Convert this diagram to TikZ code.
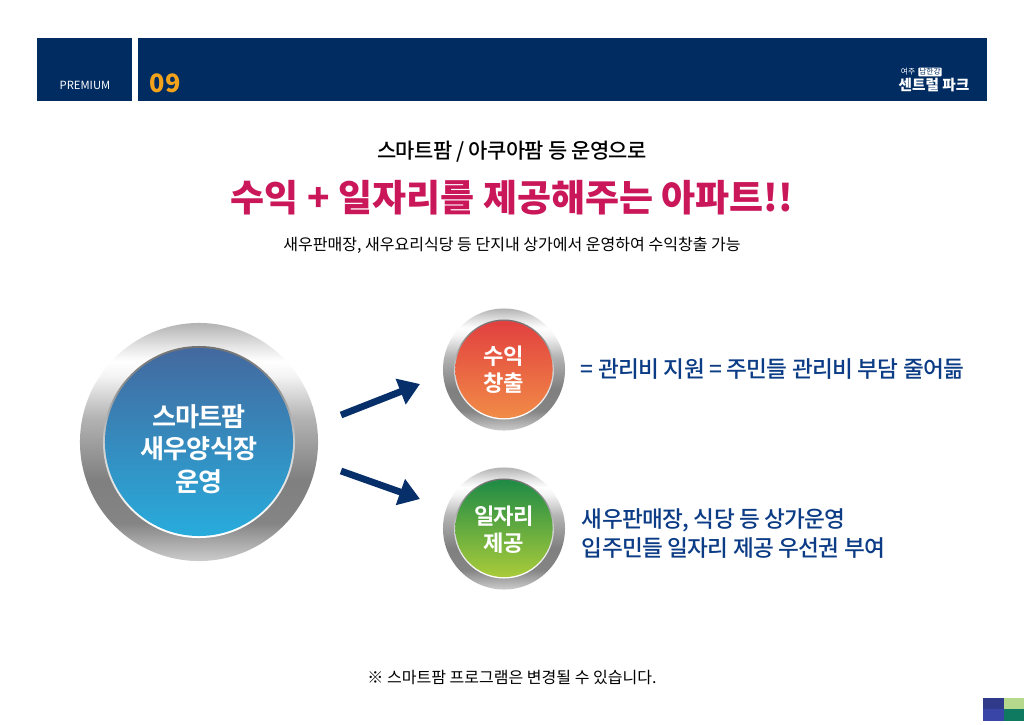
\documentclass[tikz,border=0pt]{standalone}
\usepackage{fontspec}
\setmainfont{Noto Sans CJK KR}
\newfontfamily\medfont[LetterSpace=-3]{Noto Sans CJK KR Medium}
\newfontfamily\heavyfont[LetterSpace=-3]{Noto Sans CJK KR Bold}
\usepackage{tikz}
\usetikzlibrary{arrows.meta,calc}
\definecolor{navyband}{HTML}{002C62}
\definecolor{navytext}{HTML}{0B3C85}
\definecolor{arrownavy}{HTML}{07306B}
\definecolor{amber}{HTML}{F2A31B}
\definecolor{crimson}{HTML}{C9175A}
\definecolor{bluetop}{HTML}{43699F}
\definecolor{bluebot}{HTML}{28ACDC}
\definecolor{redtop}{HTML}{E2403F}
\definecolor{redbot}{HTML}{F18B47}
\definecolor{greentop}{HTML}{1F8B45}
\definecolor{greenbot}{HTML}{A9CB3A}
\definecolor{tileindigo}{HTML}{2F3A8A}
\definecolor{tileblue}{HTML}{3A45A8}
\definecolor{tilelime}{HTML}{B5D98C}
\definecolor{tileteal}{HTML}{0F7A60}
\pgfdeclareverticalshading{silverring}{100bp}{color(0bp)=(black!20!white);color(25bp)=(black!20!white);color(33bp)=(black!48!white);color(42bp)=(black!50!white);color(55bp)=(black!30!white);color(64bp)=(black!4!white);color(67bp)=(white);color(70bp)=(black!10!white);color(75bp)=(black!30!white);color(100bp)=(black!30!white)}
\pgfdeclareverticalshading{silverrim}{100bp}{color(0bp)=(white);color(28bp)=(white);color(50bp)=(black!20!white);color(65bp)=(black!45!white);color(75bp)=(black!55!white);color(100bp)=(black!55!white)}
\begin{document}
\begin{tikzpicture}[x=0.025cm,y=-0.025cm,
    band/.style={fill=navyband,draw=none},
    ring/.style={circle,shading=silverring,draw=none,inner sep=0pt,outer sep=0pt},
    rim/.style={circle,shading=silverrim,draw=none,inner sep=0pt,outer sep=0pt},
    face/.style={circle,draw=none,inner sep=0pt,outer sep=0pt},
    bigface/.style={face,minimum size=4.7cm,top color=bluetop,bottom color=bluebot},
    smallface/.style={face,minimum size=2.43cm},
    biglabel/.style={text=white,align=center,font=\heavyfont\fontsize{18.6}{23.2}\selectfont},
    smalllabel/.style={text=white,align=center,font=\heavyfont\fontsize{15.8}{19.3}\selectfont},
    note/.style={text=navytext,align=left,anchor=west,font=\medfont\fontsize{16.1}{21.3}\selectfont},
    arr/.style={-{Triangle[length=5.2mm,width=6.6mm]},line width=1.7mm,draw=arrownavy}]
\useasboundingbox (0,0) rectangle (1024,724);
\fill[white] (0,0) rectangle (1024,724);
\fill[band] (37,38) rectangle (132,101);
\fill[band] (138,38) rectangle (987,101);
\node[text=white,font=\fontsize{8}{10}\selectfont] (tier) at (85,85) {PREMIUM};
\node[text=amber,font=\bfseries\fontsize{18}{22}\selectfont] (pageno) at (165,83.5) {09};
\node[text=white,font=\fontsize{5.5}{7}\selectfont] (place) at (908,72) {여주};
\node[fill=white,text=navyband,inner sep=0.6pt,rounded corners=0.5pt,font=\fontsize{5.5}{7}\selectfont] (river) at (930,72) {남한강};
\node[text=white,font=\bfseries\fontsize{10.4}{13}\selectfont] (brand) at (934,85) {센트럴 파크};
\node[text=black,font=\medfont\fontsize{14.9}{19}\selectfont] (lead) at (512,152) {스마트팜 / 아쿠아팜 등 운영으로};
\node[text=crimson,font=\bfseries\fontsize{26.3}{32}\selectfont] (title) at (512,198) {수익 + 일자리를 제공해주는 아파트!!};
\node[text=black,font=\fontsize{11.4}{15}\selectfont] (sub) at (512,245) {새우판매장, 새우요리식당 등 단지내 상가에서 운영하여 수익창출 가능};
\node[ring,minimum size=5.95cm] (mainring) at (199,442) {};
\node[rim,minimum size=4.8cm] (mainrim) at (199,442) {};
\node[bigface] (mainface) at (199,442) {};
\node[biglabel] (main) at (199,449) {스마트팜\\새우양식장\\운영};
\node[ring,minimum size=3.05cm] (gainring) at (504,369.5) {};
\node[rim,minimum size=2.5cm] (gainrim) at (504,369.5) {};
\node[smallface,top color=redtop,bottom color=redbot] (gainface) at (504,369.5) {};
\node[smalllabel] (gain) at (504,370) {수익\\창출};
\node[ring,minimum size=3.05cm] (jobring) at (504,528.5) {};
\node[rim,minimum size=2.5cm] (jobrim) at (504,528.5) {};
\node[smallface,top color=greentop,bottom color=greenbot] (jobface) at (504,528.5) {};
\node[smalllabel] (job) at (504,530) {일자리\\제공};
\coordinate (gainfrom) at (341,415);
\coordinate (gainto) at (420,384);
\coordinate (jobfrom) at (341,471);
\coordinate (jobto) at (420,499);
\draw[arr] (gainfrom)--(gainto);
\draw[arr] (jobfrom)--(jobto);
\node[note] (gainnote) at (576,369.5) {= 관리비 지원 = 주민들 관리비 부담 줄어듦};
\node[note] (jobnote) at (577,533.5) {새우판매장, 식당 등 상가운영\\입주민들 일자리 제공 우선권 부여};
\node[text=black,font=\fontsize{11.4}{15}\selectfont] (foot) at (512,677) {※ 스마트팜 프로그램은 변경될 수 있습니다.};
\fill[tileindigo] (983,698) rectangle (1004,709);
\fill[tileblue] (983,709) rectangle (1004,721);
\fill[tilelime] (1004,698) rectangle (1024,709);
\fill[tileteal] (1004,709) rectangle (1024,721);
\end{tikzpicture}
\end{document}
